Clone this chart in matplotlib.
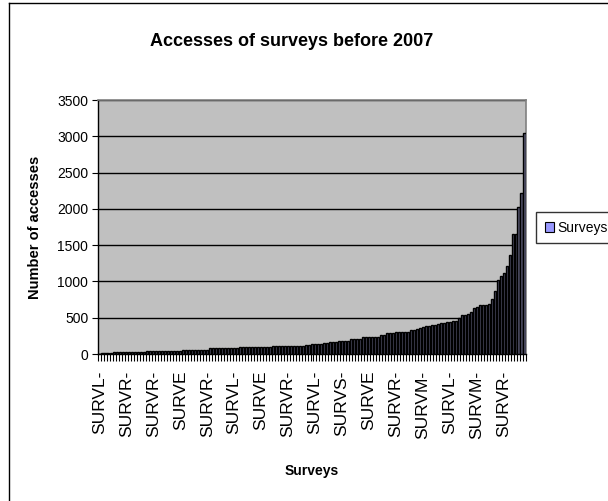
import matplotlib
matplotlib.use('Agg')
import matplotlib.pyplot as plt
from matplotlib.lines import Line2D
from matplotlib.patches import Patch
import numpy as np

plt.rcParams['font.family'] = ['Liberation Sans', 'DejaVu Sans']

# accesses per survey, sorted ascending
accesses = ([5, 8, 10, 10, 12] +
            [22, 23, 24, 24, 25, 25, 25, 26, 26, 27, 27] +
            [38, 38, 39, 40, 40, 40, 41, 41, 42, 42, 43, 43] +
            [58, 59, 59, 60, 60, 61, 61, 62, 62] +
            [76, 77, 77, 78, 78, 78, 79, 79, 80, 80] +
            [95, 95, 96, 96, 97, 97, 98, 98, 99, 99, 100] +
            [113, 113, 114, 114, 115, 115, 115, 116, 116, 117, 117, 118, 118] +
            [132, 133, 134, 135] +
            [150, 150, 160, 165, 165] +
            [182, 183, 184, 186] +
            [201, 202, 204, 205] +
            [232, 233, 235, 235, 237, 238] +
            [256, 260] +
            [283, 285, 287] +
            [302, 303, 304, 305, 306] +
            [330, 334] +
            [345] +
            [358, 377, 390, 390, 404, 404, 409, 423, 423, 441, 441, 459, 459,
             492, 533, 533, 547, 583, 634, 652, 671, 671, 671, 685, 762, 868,
             1020, 1075, 1112, 1217, 1360, 1658, 1658, 2030, 2215, 3040])

# every ninth survey name as shown on the axis
shown_names = ['SURVL-', 'SURVR-', 'SURVR-', 'SURVE', 'SURVR-', 'SURVL-',
               'SURVE', 'SURVR-', 'SURVL-', 'SURVS-', 'SURVE', 'SURVR-',
               'SURVM-', 'SURVL-', 'SURVM-', 'SURVR-']
label_step = 9
yticks = [0, 500, 1000, 1500, 2000, 2500, 3000, 3500]

n = len(accesses)
x = np.arange(n)

fig = plt.figure(figsize=(6.08, 5.01), dpi=100)
ax = fig.add_axes([98 / 608, 1 - 354 / 501, 428 / 608, 254 / 501])
ax.set_facecolor('#c0c0c0')

ax.bar(x, accesses, width=0.68, color='#55556e', edgecolor='black',
       linewidth=1.0, zorder=3)

ax.set_xlim(-0.5, n - 0.5)
ax.set_ylim(0, 3500)
ax.set_yticks(yticks)
ax.set_yticklabels([str(v) for v in yticks], fontsize=10)
ax.yaxis.grid(True, color='black', linewidth=1, zorder=1)
ax.set_axisbelow(True)

ax.set_xticks(x[::label_step])
ax.set_xticklabels(shown_names, rotation=90, fontsize=12.5)
ax.set_xticks(np.arange(n + 1) - 0.5, minor=True)
ax.tick_params(axis='x', which='major', length=0, pad=12)
ax.tick_params(axis='x', which='minor', length=5, width=0.8, color='black')
ax.tick_params(axis='y', length=4, width=0.8, pad=3)

for side in ['top', 'right']:
    ax.spines[side].set_color('#808080')
    ax.spines[side].set_linewidth(1.2)
for side in ['left', 'bottom']:
    ax.spines[side].set_color('black')
    ax.spines[side].set_linewidth(1)

ax.set_ylabel('Number of accesses', fontsize=10.5, fontweight='bold', labelpad=11)
ax.set_xlabel('Surveys', fontsize=10, fontweight='bold', labelpad=18)
fig.text(292 / 608, 1 - 42 / 501, 'Accesses of surveys before 2007',
         ha='center', va='center', fontsize=13, fontweight='bold')

leg = fig.legend(handles=[Patch(facecolor='#9999ff', edgecolor='black', linewidth=0.8)],
                 labels=['Surveys'], loc='upper left',
                 bbox_to_anchor=(536 / 608, 1 - 212 / 501),
                 bbox_transform=fig.transFigure, fontsize=10, frameon=True,
                 fancybox=False, edgecolor='black', borderaxespad=0,
                 handlelength=0.7, handleheight=0.7, handletextpad=0.2,
                 borderpad=0.62)
leg.get_frame().set_linewidth(1)

# outer chart frame
fig.add_artist(Line2D([9 / 608, 9 / 608], [0, 1 - 3 / 501], color='black', linewidth=1))
fig.add_artist(Line2D([9 / 608, 1], [1 - 3 / 501, 1 - 3 / 501], color='black', linewidth=1))

fig.savefig('out.png', dpi=100)
